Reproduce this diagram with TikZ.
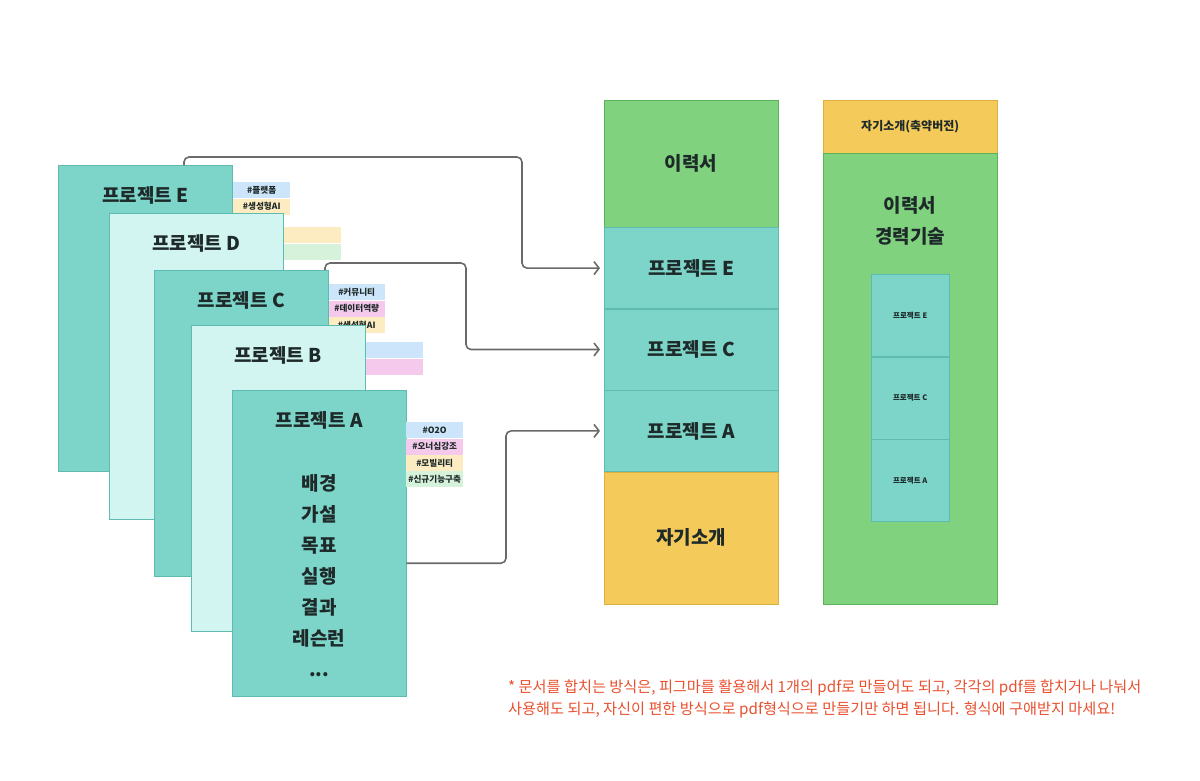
\documentclass[tikz,border=0pt]{standalone}
\usepackage{fontspec}
\setmainfont{Noto Sans CJK KR}
\usetikzlibrary{positioning,arrows.meta}
\definecolor{ink}{HTML}{1E2A2A}
\definecolor{cardteal}{HTML}{7DD4C8}
\definecolor{cardpale}{HTML}{D2F5F2}
\definecolor{tealline}{HTML}{5DBBB0}
\definecolor{cvgreen}{HTML}{80D27E}
\definecolor{greenline}{HTML}{5DB35B}
\definecolor{introyellow}{HTML}{F4CA5A}
\definecolor{yellowline}{HTML}{DDB040}
\definecolor{tagblue}{HTML}{CDE5FA}
\definecolor{tagpink}{HTML}{F4C9EC}
\definecolor{tagyellow}{HTML}{FDECC2}
\definecolor{taggreen}{HTML}{D7F2DA}
\definecolor{linegray}{HTML}{6A6A6A}
\definecolor{notered}{HTML}{E8502E}

\begin{document}
\begin{tikzpicture}[x=1pt,y=-1pt]
        \tikzstyle{every node}=[inner sep=0pt, text=ink]
        \tikzstyle{card}=[draw=tealline, fill=cardteal, minimum width=174pt, minimum height=306pt, anchor=north west]
        \tikzstyle{paper}=[card, fill=cardpale]
        \tikzstyle{title}=[font=\fontsize{19}{23}\selectfont\bfseries]
        \tikzstyle{tag}=[minimum width=57pt, minimum height=16pt, anchor=north west, font=\fontsize{8.6}{9}\selectfont\bfseries]
        \tikzstyle{block}=[draw=tealline, fill=cardteal, minimum width=174pt, title]
        \tikzstyle{mini}=[draw=tealline, fill=cardteal, minimum width=78pt, minimum height=82pt, font=\fontsize{7.5}{9}\selectfont\bfseries]
        \tikzstyle{conn}=[draw=linegray, line width=1.6pt, rounded corners=5pt, -{Straight Barb[length=5pt,width=13pt]}]
        \useasboundingbox (0,0) rectangle (1200,780);
        % project cards, back to front
        \node[card] (cardE) at (58,165) {};
        \node[title] at ([yshift=-30pt]cardE.north) {프로젝트 E};
        \node[tag, fill=tagblue] (tagE1) at (233,182) {\#플랫폼};
        \node[tag, fill=tagyellow, below=0pt of tagE1] {\#생성형AI};
        \node[tag, fill=tagyellow] (tagD1) at (284,227) {};
        \node[tag, fill=taggreen, below=0pt of tagD1] {};
        \node[paper] (cardD) at (109,213) {};
        \node[title] at ([yshift=-30pt]cardD.north) {프로젝트 D};
        \node[tag, fill=tagblue] (tagC1) at (328,284) {\#커뮤니티};
        \node[tag, fill=tagpink, below=0pt of tagC1] (tagC2) {\#데이터역량};
        \node[tag, fill=tagyellow, below=0pt of tagC2] {\#생성형AI};
        \node[card] (cardC) at (154,270) {};
        \node[title] at ([yshift=-30pt]cardC.north) {프로젝트 C};
        \node[tag, fill=tagblue] (tagB1) at (366,342) {};
        \node[tag, fill=tagpink, below=0pt of tagB1] {};
        \node[paper] (cardB) at (191,325) {};
        \node[title] at ([yshift=-30pt]cardB.north) {프로젝트 B};
        \node[card] (cardA) at (232,390) {};
        \node[title] at ([yshift=-30pt]cardA.north) {프로젝트 A};
        \node[title, align=center, font=\fontsize{19}{31}\selectfont\bfseries] at ([yshift=-32pt]cardA.center) {배경\\가설\\목표\\실행\\결과\\레슨런\\...};
        \node[tag, fill=tagblue] (tagA1) at (406,422) {\#O2O};
        \node[tag, fill=tagpink, below=0pt of tagA1] (tagA2) {\#오너십강조};
        \node[tag, fill=tagyellow, below=0pt of tagA2] (tagA3) {\#모빌리티};
        \node[tag, fill=taggreen, below=0pt of tagA3] {\#신규기능구축};
        % full version
        \node[block, fill=cvgreen, draw=greenline, minimum height=127pt, anchor=north west] (midCV) at (604,100) {이력서};
        \node[block, minimum height=81pt, below=0pt of midCV] (midE) {프로젝트 E};
        \node[block, minimum height=81pt, below=0pt of midE] (midC) {프로젝트 C};
        \node[block, minimum height=81pt, below=0pt of midC] (midA) {프로젝트 A};
        \node[block, fill=introyellow, draw=yellowline, minimum height=132pt, below=0pt of midA] (midIntro) {자기소개};
        % short version
        \node[block, fill=introyellow, draw=yellowline, minimum height=53pt, anchor=north west, font=\fontsize{12}{14}\selectfont\bfseries] (sumIntro) at (823,100) {자기소개(축약버전)};
        \node[block, fill=cvgreen, draw=greenline, minimum height=451pt, below=0pt of sumIntro] (sumCV) {};
        \node[title, align=center, font=\fontsize{19}{31}\selectfont\bfseries] at ([yshift=-67pt]sumCV.north) {이력서\\경력기술};
        \node[mini, anchor=north] (sumE) at ([yshift=-121pt]sumCV.north) {프로젝트 E};
        \node[mini, below=0pt of sumE] (sumC) {프로젝트 C};
        \node[mini, below=0pt of sumC] (sumA) {프로젝트 A};
        % connectors
        \draw[conn] ([xshift=126pt]cardE.north west) -- ++(0,-8) -| ([xshift=-82pt]midE.west) -- ([xshift=-4pt]midE.west);
        \draw[conn] ([xshift=171pt]cardC.north west) -- ++(0,-7) -| ([xshift=-138pt]midC.west) -- ([xshift=-4pt]midC.west);
        \draw[conn] ([yshift=-20pt]cardA.east) -| ([xshift=-98pt]midA.west) -- ([xshift=-4pt]midA.west);
        \node[anchor=north west, align=left, text=notered, font=\fontsize{15.2}{22}\selectfont] (note) at (508,680) {* 문서를 합치는 방식은, 피그마를 활용해서 1개의 pdf로 만들어도 되고, 각각의 pdf를 합치거나 나눠서\\사용해도 되고, 자신이 편한 방식으로 pdf형식으로 만들기만 하면 됩니다. 형식에 구애받지 마세요!};
    \end{tikzpicture}
\end{document}
